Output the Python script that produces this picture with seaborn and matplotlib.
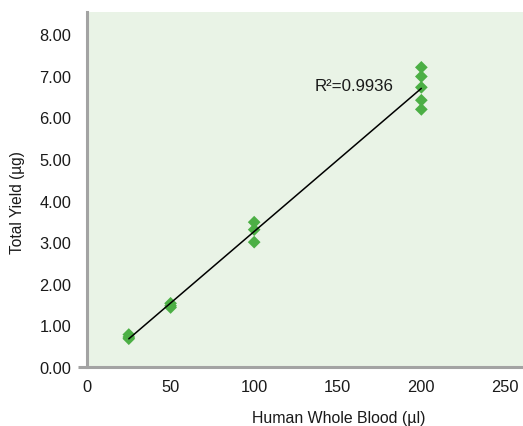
# Total yield vs human whole blood volume, with linear fit
import matplotlib
matplotlib.use("Agg")
import matplotlib.pyplot as plt
import seaborn as sns
import pandas as pd

# data
blood_ul = [25, 25, 25, 50, 50, 50, 100, 100, 100, 200, 200, 200, 200, 200]
yield_ug = [0.78, 0.72, 0.68, 1.53, 1.47, 1.43, 3.48, 3.30, 3.00, 7.20, 6.98, 6.72, 6.41, 6.19]
x_ticks = [0, 50, 100, 150, 200, 250]
y_ticks = [0, 1, 2, 3, 4, 5, 6, 7, 8]
r2_label = "R\u00b2=0.9936"

df = pd.DataFrame({"blood": blood_ul, "yield": yield_ug})

sns.set_theme(style="white")
plt.rcParams["font.family"] = ["Liberation Sans", "DejaVu Sans"]

fig = plt.figure(figsize=(5.23, 4.27), dpi=100)
ax = fig.add_axes([87 / 523, 59 / 427, 436 / 523, 355 / 427])
ax.set_facecolor("#e9f3e6")

sns.regplot(data=df, x="blood", y="yield", ax=ax, ci=None, truncate=True,
            marker="D", color="#4caf45",
            scatter_kws={"s": 42, "alpha": 1, "edgecolor": "none", "zorder": 3},
            line_kws={"color": "black", "lw": 1.1, "zorder": 4})

ax.set_xlim(0, 260.8)
ax.set_ylim(0, 8.53)
ax.set_xticks(x_ticks)
ax.set_yticks(y_ticks)
ax.set_yticklabels([f"{v:.2f}" for v in y_ticks])
ax.tick_params(axis="both", length=0, labelsize=11.8, colors="#1a1a1a")
ax.tick_params(axis="y", pad=11.5)
ax.tick_params(axis="x", pad=9)

ax.text(136, 6.77, r2_label, ha="left", va="center", fontsize=12.2, color="#1a1a1a")

ax.set_xlabel("Human Whole Blood (\u00b5l)", fontsize=11.4, color="#1a1a1a")
ax.set_ylabel("Total Yield (\u00b5g)", fontsize=11.2, color="#1a1a1a")
ax.xaxis.set_label_coords((339 - 87) / 436, -0.122)
ax.yaxis.set_label_coords((25 - 87) / 436, 0.465)

# spines: grey left + bottom, bottom sticks out a bit to the left
for side in ["top", "right"]:
    ax.spines[side].set_visible(False)
ax.spines["left"].set_color("#a3a3a3")
ax.spines["left"].set_linewidth(2.2)
ax.spines["bottom"].set_visible(False)
ax.plot([-9 / 436, 1], [0, 0], transform=ax.transAxes, color="#a3a3a3",
        lw=2.2, clip_on=False, solid_capstyle="butt", zorder=5)

plt.savefig("out.png", dpi=100)
plt.close()
